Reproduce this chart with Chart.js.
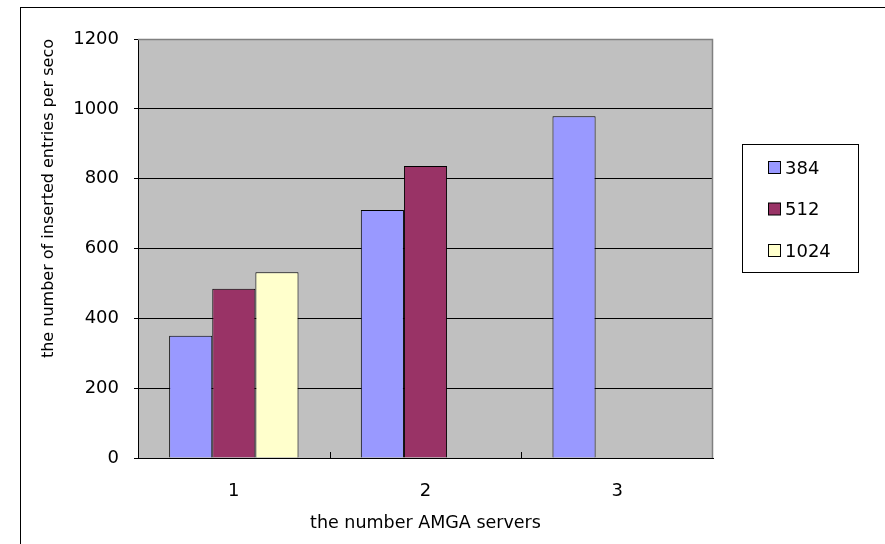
<!DOCTYPE html>
<html>
<head>
<meta charset="utf-8">
<script src="https://cdn.jsdelivr.net/npm/chart.js@4/dist/chart.umd.min.js"></script>
<style>
  html, body { margin: 0; padding: 0; background: #fff; }
  #wrap { width: 885px; height: 544px; }
</style>
</head>
<body>
<div id="wrap"><canvas id="c" width="885" height="544"></canvas></div>
<script>
// Inserted entries per second, by number of AMGA servers and entry size
const categories = ['1', '2', '3'];
const seriesNames = ['384', '512', '1024'];
const values384 = [350, 710, 979];
const values512 = [485, 836, null];
const values1024 = [532, null, null];
const yTickValues = [0, 200, 400, 600, 800, 1000, 1200];

const seriesColors = ['#9999FF', '#993366', '#FFFFCC'];
const FONT = '"DejaVu Sans", Verdana, sans-serif';

// White page, outer frame and grey plot background
const backdrop = {
  id: 'backdrop',
  beforeDraw(chart) {
    const { ctx, chartArea: a } = chart;
    ctx.save();
    ctx.fillStyle = '#ffffff';
    ctx.fillRect(0, 0, chart.width, chart.height);
    ctx.strokeStyle = '#000000';
    ctx.lineWidth = 1;
    ctx.strokeRect(20.5, 7.5, chart.width, chart.height);
    ctx.fillStyle = '#C0C0C0';
    ctx.fillRect(a.left, a.top, a.right - a.left, a.bottom - a.top);
    ctx.restore();
  }
};

// Plot edge, inward category ticks and the boxed legend
const overlay = {
  id: 'overlay',
  afterDraw(chart) {
    const { ctx, chartArea: a } = chart;
    const xs = chart.scales.x;
    ctx.save();
    // grey top and right edges of the plot area
    ctx.strokeStyle = '#808080';
    ctx.lineWidth = 1.5;
    ctx.beginPath();
    ctx.moveTo(a.left, a.top + 0.5);
    ctx.lineTo(a.right - 0.5, a.top + 0.5);
    ctx.lineTo(a.right - 0.5, a.bottom);
    ctx.stroke();

    // short tick marks between categories, pointing into the plot
    ctx.strokeStyle = '#000000';
    ctx.lineWidth = 1;
    const step = xs.getPixelForValue(1) - xs.getPixelForValue(0);
    ctx.beginPath();
    for (let i = 1; i < categories.length; i++) {
      const x = Math.round(xs.getPixelForValue(i) - step / 2) + 0.5;
      ctx.moveTo(x, a.bottom);
      ctx.lineTo(x, a.bottom - 6);
    }
    ctx.stroke();

    // legend
    const lx = a.right + 29, ly = 144, lw = 116, lh = 128;
    ctx.fillStyle = '#ffffff';
    ctx.fillRect(lx, ly, lw, lh);
    ctx.strokeStyle = '#000000';
    ctx.strokeRect(lx + 0.5, ly + 0.5, lw, lh);
    ctx.font = '18px ' + FONT;
    ctx.textBaseline = 'middle';
    ctx.textAlign = 'left';
    chart.data.datasets.forEach((ds, i) => {
      const cy = ly + 24 + i * 41.5;
      ctx.fillStyle = ds.backgroundColor;
      ctx.fillRect(lx + 26.5, cy - 6.5, 12, 12);
      ctx.strokeStyle = '#000000';
      ctx.strokeRect(lx + 26.5, cy - 6.5, 12, 12);
      ctx.fillStyle = '#000000';
      ctx.fillText(ds.label, lx + 43, cy + 1);
    });
    ctx.restore();
  }
};

const seriesValues = [values384, values512, values1024];

new Chart(document.getElementById('c'), {
  type: 'bar',
  data: {
    labels: categories,
    datasets: seriesNames.map((name, i) => ({
      label: name,
      data: seriesValues[i],
      backgroundColor: seriesColors[i],
      borderColor: '#000000',
      borderWidth: 1,
      categoryPercentage: 0.675,
      barPercentage: 1.0
    }))
  },
  options: {
    responsive: false,
    animation: false,
    devicePixelRatio: 1,
    layout: { padding: { left: 20, top: 39, right: 172, bottom: 0 } },
    plugins: {
      legend: { display: false },
      tooltip: { enabled: false }
    },
    scales: {
      x: {
        grid: { display: false, drawTicks: false },
        border: { display: true, color: '#000000', width: 1 },
        ticks: { color: '#000000', font: { family: FONT, size: 18 }, padding: 23 },
        title: {
          display: true,
          text: 'the number AMGA servers',
          color: '#000000',
          font: { family: FONT, size: 17.5 },
          padding: { top: 0, bottom: 10 }
        },
        afterFit(scale) { scale.height = 86; }
      },
      y: {
        min: 0,
        max: 1200,
        afterBuildTicks(scale) { scale.ticks = yTickValues.map(v => ({ value: v })); },
        grid: { color: '#000000', lineWidth: 1, tickLength: 4, tickColor: '#000000' },
        border: { display: true, color: '#000000', width: 1 },
        ticks: {
          color: '#000000',
          font: { family: FONT, size: 18 },
          padding: 15,
          callback: v => String(v)
        },
        title: {
          display: true,
          text: 'the number of inserted entries per seco',
          align: 'end',
          color: '#000000',
          font: { family: FONT, size: 16 },
          padding: { top: 19, bottom: 0 }
        },
        afterFit(scale) { scale.width = 118; }
      }
    }
  },
  plugins: [backdrop, overlay]
});
</script>
</body>
</html>
